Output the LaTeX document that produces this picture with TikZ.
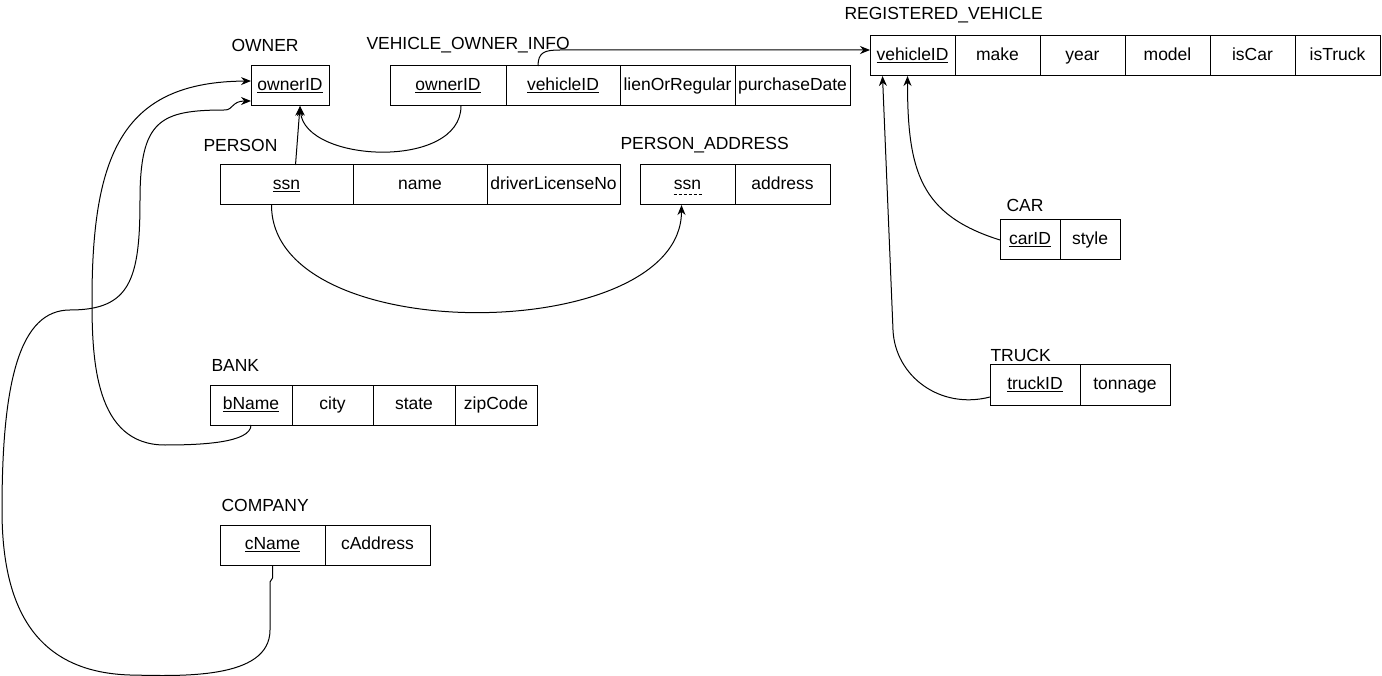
\documentclass[tikz,border=0pt]{standalone}
\usepackage{fontspec}
\setmainfont{Liberation Sans}
\usetikzlibrary{arrows.meta,positioning}

\begin{document}
\begin{tikzpicture}[->,>={Stealth[length=10pt,width=8pt]},x=1pt,y=-1pt,line width=1pt,
    font=\fontsize{17.5}{21}\selectfont]
    \tikzstyle{cell}=[draw=black, rectangle, minimum height=40pt, inner sep=0pt, outer sep=0pt,
        text height=12.5pt, text depth=3.5pt, text=black]
    \tikzstyle{title}=[anchor=west, inner sep=0pt, text=black]

    \useasboundingbox (0,0) rectangle (1382,676);

    % OWNER
    \node[title] (ownerT) at (231,45) {OWNER};
    \node[cell, minimum width=78pt, anchor=north west] (o1) at (251,66) {\underline{ownerID}};

    % VEHICLE_OWNER_INFO
    \node[title] (voiT) at (366,45) {VEHICLE\_OWNER\_INFO};
    \node[cell, minimum width=116pt, anchor=north west] (v1) at (390,66) {\underline{ownerID}};
    \node[cell, minimum width=114pt, right=0pt of v1] (v2) {\underline{vehicleID}};
    \node[cell, minimum width=115pt, right=0pt of v2] (v3) {lienOrRegular};
    \node[cell, minimum width=115pt, right=0pt of v3] (v4) {purchaseDate};

    % REGISTERED_VEHICLE
    \node[title] (rvT) at (844,15) {REGISTERED\_VEHICLE};
    \node[cell, minimum width=85pt, anchor=north west] (r1) at (870,36) {\underline{vehicleID}};
    \node[cell, minimum width=85pt, right=0pt of r1] (r2) {make};
    \node[cell, minimum width=85pt, right=0pt of r2] (r3) {year};
    \node[cell, minimum width=85pt, right=0pt of r3] (r4) {model};
    \node[cell, minimum width=85pt, right=0pt of r4] (r5) {isCar};
    \node[cell, minimum width=85pt, right=0pt of r5] (r6) {isTruck};

    % PERSON
    \node[title] (personT) at (203,145) {PERSON};
    \node[cell, minimum width=133pt, anchor=north west] (p1) at (220,165) {\underline{ssn}};
    \node[cell, minimum width=134pt, right=0pt of p1] (p2) {name};
    \node[cell, minimum width=133pt, right=0pt of p2] (p3) {driverLicenseNo};

    % PERSON_ADDRESS
    \node[title] (paT) at (620,145) {PERSON\_ADDRESS};
    \node[cell, minimum width=95pt, anchor=north west] (a1) at (640,165) {ssn};
    \node[cell, minimum width=95pt, right=0pt of a1] (a2) {address};
    \draw[-, line width=0.9pt, dash pattern=on 3pt off 2pt]
        ([xshift=-14,yshift=-9]a1.center) -- ([xshift=14,yshift=-9]a1.center);

    % CAR
    \node[title] (carT) at (1006,205) {CAR};
    \node[cell, minimum width=60pt, anchor=north west] (c1) at (1000,220) {\underline{carID}};
    \node[cell, minimum width=60pt, right=0pt of c1] (c2) {style};

    % TRUCK
    \node[title] (truckT) at (990,355) {TRUCK};
    \node[cell, minimum width=90pt, anchor=north west] (t1) at (990,365) {\underline{truckID}};
    \node[cell, minimum width=90pt, right=0pt of t1] (t2) {tonnage};

    % BANK
    \node[title] (bankT) at (211,365) {BANK};
    \node[cell, minimum width=82pt, anchor=north west] (b1) at (210,385) {\underline{bName}};
    \node[cell, minimum width=81pt, right=0pt of b1] (b2) {city};
    \node[cell, minimum width=82pt, right=0pt of b2] (b3) {state};
    \node[cell, minimum width=82pt, right=0pt of b3] (b4) {zipCode};

    % COMPANY
    \node[title] (companyT) at (221,505) {COMPANY};
    \node[cell, minimum width=105pt, anchor=north west] (m1) at (220,525) {\underline{cName}};
    \node[cell, minimum width=105pt, right=0pt of m1] (m2) {cAddress};

    % foreign keys
    \draw ([xshift=9]p1.north) -- ([xshift=10]o1.south);
    \draw ([xshift=13]v1.south) .. controls +(0,64) and +(5,57) .. ([xshift=10]o1.south);
    \draw ([xshift=-25]v2.north) .. controls +(0,-14) and (545,50) .. (560,50) -- ([yshift=6]r1.west);
    \draw (c1.west) .. controls +(-80,-25) and +(0,95) .. ([xshift=-5]r1.south);
    \draw ([yshift=-12]t1.west) .. controls +(-50,13) and (895,376) .. (893,330) -- ([xshift=-30]r1.south);
    \draw ([xshift=-15]p1.south) .. controls +(0,145) and +(0,140) .. ([xshift=-6]a1.south);
    \draw (b1.south) .. controls +(0,18) and (200,445) .. (165,445)
        .. controls (95,445) and (92,360) .. (92,300)
        .. controls (92,150) and (125,82) .. ([yshift=5]o1.west);
    \draw (m1.south) -- +(0,13) -- (270,582) -- (270,630)
        .. controls (270,680) and (180,676) .. (130,675)
        .. controls (30,672) and (2,600) .. (2,510)
        .. controls (2,380) and (20,310) .. (70,310)
        .. controls (130,310) and (140,280) .. (140,200)
        .. controls (140,120) and (160,110) .. (225,110)
        .. controls (233,110) and (232,101) .. ([yshift=-15]o1.west);
\end{tikzpicture}
\end{document}
